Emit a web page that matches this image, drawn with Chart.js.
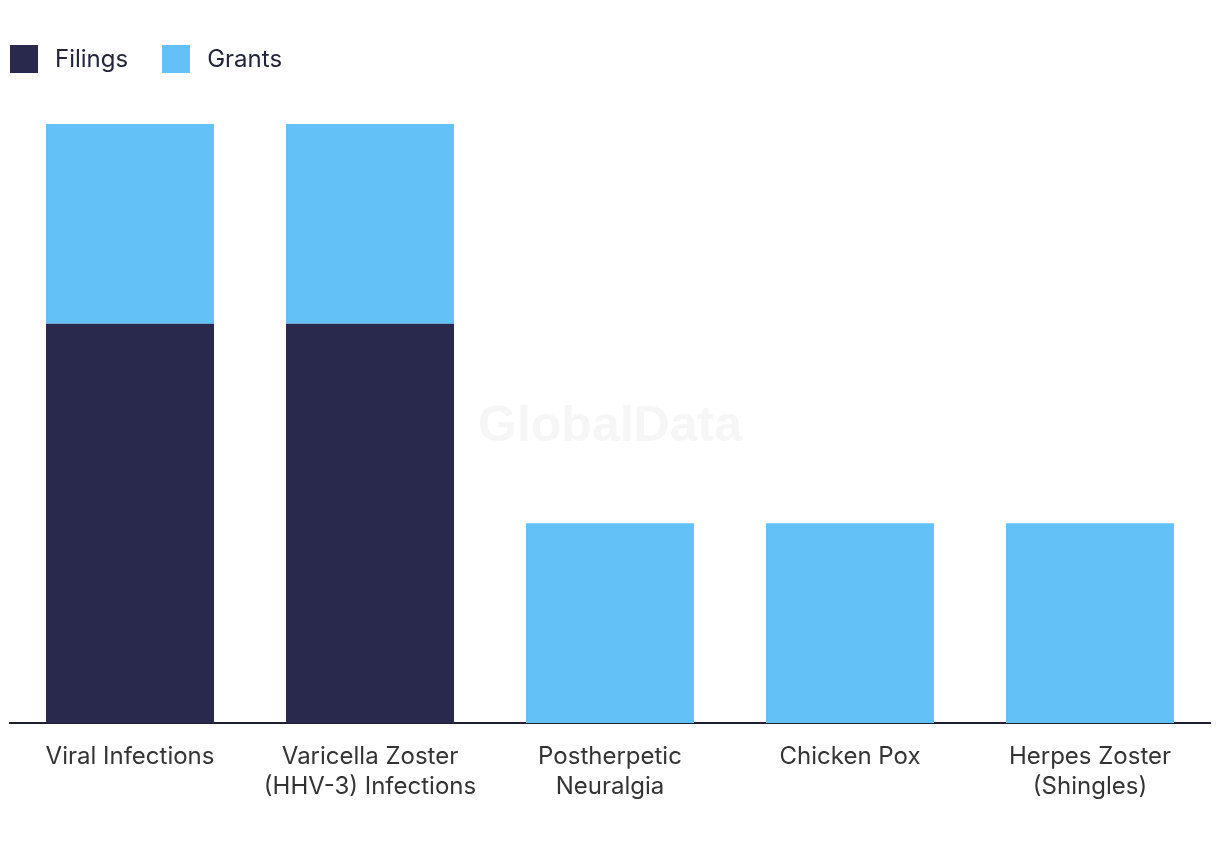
<!DOCTYPE html>
<html>
<head>
<meta charset="utf-8">
<script src="https://cdn.jsdelivr.net/npm/chart.js@4"></script>
<style>
  html, body { margin: 0; padding: 0; background: #fff; }
  #wrap { position: relative; width: 1220px; height: 850px; }
  #legend { position: absolute; left: 10px; top: 44px; display: flex; font-family: Inter, sans-serif; font-size: 24px; color: #22243a; }
  .item { display: flex; align-items: center; margin-right: 34px; }
  .swatch { width: 28px; height: 28px; margin-right: 17px; }
</style>
</head>
<body>
<div id="wrap">
  <canvas id="chart" width="1220" height="850"></canvas>
  <div id="legend"></div>
</div>
<script>
const categories = [
  'Viral Infections',
  ['Varicella Zoster', '(HHV-3) Infections'],
  ['Postherpetic', 'Neuralgia'],
  'Chicken Pox',
  ['Herpes Zoster', '(Shingles)']
];
const filings = [2, 2, 0, 0, 0];
const grants = [1, 1, 1, 1, 1];
const seriesNames = ['Filings', 'Grants'];
const seriesColors = ['#28294c', '#63c1f7'];

// Legend
const legend = document.getElementById('legend');
seriesNames.forEach((name, i) => {
    const item = document.createElement('div');
    item.className = 'item';
    item.innerHTML = '<span class="swatch" style="background:' + seriesColors[i] + '"></span>' + name;
    legend.appendChild(item);
});

// Faint watermark in the middle of the plot
const watermark = {
    id: 'watermark',
    beforeDatasetsDraw(chart) {
        const ctx = chart.ctx;
        ctx.save();
        ctx.font = 'bold 50px "Liberation Sans", Arial, sans-serif';
        ctx.fillStyle = '#f6f6f6';
        ctx.textAlign = 'center';
        ctx.textBaseline = 'middle';
        ctx.fillText('GlobalData', 610, 427);
        ctx.restore();
    }
};

new Chart(document.getElementById('chart'), {
    type: 'bar',
    data: {
        labels: categories,
        datasets: [
            { label: seriesNames[0], data: filings, backgroundColor: seriesColors[0] },
            { label: seriesNames[1], data: grants, backgroundColor: seriesColors[1] }
        ]
    },
    options: {
        responsive: false,
        animation: false,
        layout: { padding: { top: 124, left: 10, right: 10, bottom: 0 } },
        datasets: { bar: { barPercentage: 0.7, categoryPercentage: 1 } },
        plugins: {
            legend: { display: false },
            tooltip: { enabled: false }
        },
        scales: {
            x: {
                stacked: true,
                grid: { display: false },
                border: { display: true, color: '#1e2032', width: 2 },
                ticks: {
                    color: '#333333',
                    font: { family: 'Inter, sans-serif', size: 24, lineHeight: 1.25 },
                    padding: 11,
                    maxRotation: 0,
                    autoSkip: false
                },
                afterFit(scale) {
                    scale.height = 127;
                }
            },
            y: {
                stacked: true,
                display: false,
                min: 0,
                max: 3
            }
        }
    },
    plugins: [watermark]
});
</script>
</body>
</html>
